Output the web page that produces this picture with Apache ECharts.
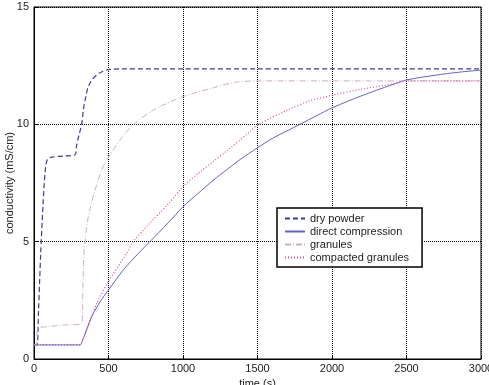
<!DOCTYPE html>
<html>
<head>
<meta charset="utf-8">
<script src="https://cdn.jsdelivr.net/npm/echarts@6/dist/echarts.min.js"></script>
<style>
  html, body { margin: 0; padding: 0; background: #fff; }
  #chart { width: 489px; height: 385px; }
</style>
</head>
<body>
<div id="chart"></div>
<script>
// values (time in s, conductivity in mS/cm)
const dryTime = [0, 20, 30, 45, 60, 75, 90, 120, 200, 275, 286, 300, 320, 331, 345, 364, 390, 421, 460, 510, 600, 1000, 1500, 2000, 2500, 3000];
const dryVal = [0.6, 0.6, 2.0, 4.5, 6.5, 8.0, 8.5, 8.6, 8.65, 8.7, 9.1, 9.5, 10.0, 10.6, 11.1, 11.6, 11.9, 12.1, 12.25, 12.34, 12.36, 12.36, 12.36, 12.36, 12.36, 12.36];

const directTime = [0, 310, 320, 387, 450, 500, 600, 711, 778, 900, 1000, 1100, 1200, 1300, 1383, 1500, 1600, 1785, 1900, 2000, 2200, 2400, 2500, 2700, 2850, 3000];
const directVal = [0.6, 0.6, 0.7, 1.8, 2.5, 2.94, 3.8, 4.57, 5.0, 5.8, 6.49, 7.05, 7.6, 8.1, 8.5, 9.0, 9.4, 10.0, 10.38, 10.7, 11.22, 11.68, 11.89, 12.1, 12.22, 12.31];

const granTime = [0, 15, 25, 100, 200, 320, 328, 335, 342, 360, 376, 400, 454, 490, 577, 665, 800, 1000, 1200, 1340, 1500, 2000, 2500, 3000];
const granVal = [0.6, 0.6, 1.3, 1.38, 1.45, 1.5, 3.0, 4.5, 5.0, 5.9, 6.4, 7.0, 8.05, 8.5, 9.33, 9.97, 10.6, 11.18, 11.55, 11.78, 11.85, 11.85, 11.85, 11.85];

const compTime = [0, 310, 320, 354, 421, 499, 622, 667, 779, 900, 1000, 1100, 1200, 1300, 1450, 1500, 1700, 1850, 2007, 2200, 2434, 2500, 2700, 3000];
const compVal = [0.6, 0.6, 0.7, 1.24, 2.37, 3.3, 4.5, 5.0, 5.8, 6.6, 7.35, 7.9, 8.4, 8.9, 9.69, 9.97, 10.6, 11.0, 11.25, 11.5, 11.75, 11.85, 11.85, 11.85];

const pairs = (t, v) => t.map((x, i) => [x, v[i]]);

const font = 'Liberation Sans';
const gridLine = { show: true, lineStyle: { color: '#000', type: 'dotted', width: 1 } };

const chart = echarts.init(document.getElementById('chart'));
chart.setOption({
  animation: false,
  textStyle: { fontFamily: font },
  grid: { left: 34, right: 8, top: 7, bottom: 26, outerBoundsMode: 'none', containLabel: false,
    show: true, borderColor: '#000', borderWidth: 1 },
  legend: {
    orient: 'vertical',
    left: 277, top: 208,
    padding: [5, 13, 4, 7],
    itemGap: 2,
    itemWidth: 20, itemHeight: 10,
    itemStyle: { opacity: 0 },
    backgroundColor: '#fff',
    borderColor: '#000', borderWidth: 1.5,
    textStyle: { fontFamily: font, fontSize: 11, color: '#222' },
    data: ['dry powder', 'direct compression', 'granules', 'compacted granules']
  },
  xAxis: {
    type: 'value', min: 0, max: 3000, interval: 500,
    name: 'time (s)', nameLocation: 'middle', nameGap: 18,
    nameTextStyle: { fontFamily: font, fontSize: 11, color: '#222' },
    axisLine: { show: true, onZero: false, lineStyle: { color: '#000' } },
    axisTick: { show: true, inside: true, length: 4, lineStyle: { color: '#000' } },
    axisLabel: { fontFamily: font, fontSize: 11, color: '#222', margin: 4, formatter: v => String(v) },
    splitLine: gridLine
  },
  yAxis: {
    type: 'value', min: 0, max: 15, interval: 5,
    name: 'conductivity (mS/cm)', nameLocation: 'middle', nameGap: 19, nameMoveOverlap: false,
    nameTextStyle: { fontFamily: font, fontSize: 11, color: '#222' },
    axisLine: { show: true, lineStyle: { color: '#000' } },
    axisTick: { show: true, inside: true, length: 4, lineStyle: { color: '#000' } },
    axisLabel: { fontFamily: font, fontSize: 11, color: '#222', margin: 5 },
    splitLine: gridLine
  },
  series: [
    { name: 'dry powder', type: 'line', symbol: 'none', smooth: 0.3, data: pairs(dryTime, dryVal),
      lineStyle: { color: '#3b3b8f', width: 1.2, type: [5, 3] }, itemStyle: { color: '#3b3b8f' } },
    { name: 'direct compression', type: 'line', symbol: 'none', smooth: 0.3, data: pairs(directTime, directVal),
      lineStyle: { color: '#6464b8', width: 1 }, itemStyle: { color: '#6464b8' } },
    { name: 'granules', type: 'line', symbol: 'none', smooth: 0.3, data: pairs(granTime, granVal),
      lineStyle: { color: '#c9b2c2', width: 1, type: [6, 2, 1, 2] }, itemStyle: { color: '#c9b2c2' } },
    { name: 'compacted granules', type: 'line', symbol: 'none', smooth: 0.3, data: pairs(compTime, compVal),
      lineStyle: { color: '#cc4fa6', width: 1.2, type: [1, 2] }, itemStyle: { color: '#cc4fa6' } }
  ]
});
</script>
</body>
</html>
